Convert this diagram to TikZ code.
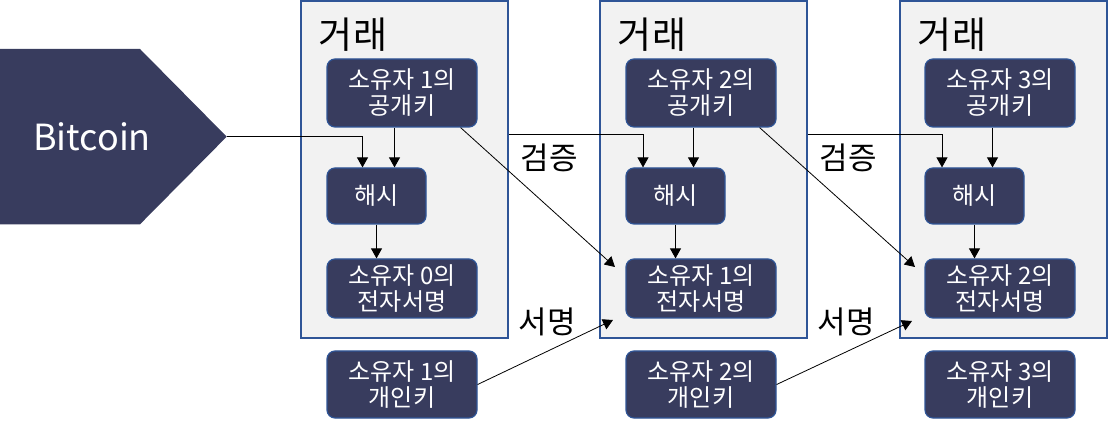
\documentclass[tikz,border=0pt]{standalone}
\usepackage{fontspec}
\setmainfont{Noto Sans CJK KR}
\usepackage{xcolor}
\usetikzlibrary{arrows.meta}
\definecolor{navy}{HTML}{383C5E}
\definecolor{edgeblue}{HTML}{2F5597}
\definecolor{panel}{HTML}{F2F2F2}

\begin{document}
\begin{tikzpicture}[x=1pt, y=-1pt,
    every node/.style = {align=center, inner sep=0pt},
    txbox/.style = {draw=edgeblue, line width=1.5pt, fill=panel,
      minimum width=207pt, minimum height=337pt},
    txlabel/.style = {font=\fontsize{37}{42}\selectfont},
    steplabel/.style = {font=\fontsize{31}{36}\selectfont},
    item/.style = {shape=rectangle, rounded corners=8pt,
      draw=edgeblue, line width=1.2pt, fill=navy, text=white,
      font=\fontsize{24}{26}\selectfont, minimum width=150pt},
    arr/.style = {-{Triangle[length=10pt,width=11pt]}, line width=0.8pt}]
    \useasboundingbox (0,0) rectangle (1108,427);

    % Bitcoin
    \fill[navy] (0,49) -- (140,49) -- (226.7,136.7) -- (140,224.3) -- (0,224.3) -- cycle;
    \coordinate (tip) at (226.7,136.7);
    \node[text=white, font=\fontsize{36}{40}\selectfont] (btc) at (92,137) {Bitcoin};

    % transactions
    \node[txbox] (box1) at (404.5,169.5) {};
    \node[txbox] (box2) at (703.7,169.5) {};
    \node[txbox] (box3) at (1003.3,169.5) {};
    \node[txlabel] (tx1) at (353,35) {거래};
    \node[txlabel] (tx2) at (652,35) {거래};
    \node[txlabel] (tx3) at (952,35) {거래};

    \node[item, minimum height=68pt] (pub1) at (402,93) {소유자 1의\\공개키};
    \node[item, minimum height=68pt] (pub2) at (701,93) {소유자 2의\\공개키};
    \node[item, minimum height=68pt] (pub3) at (1000,93) {소유자 3의\\공개키};

    \node[item, minimum width=99pt, minimum height=56pt] (hash1) at (376.5,196) {해시};
    \node[item, minimum width=99pt, minimum height=56pt] (hash2) at (675.5,196) {해시};
    \node[item, minimum width=99pt, minimum height=56pt] (hash3) at (974.5,196) {해시};

    \node[item, minimum height=59pt] (sig1) at (402,288.5) {소유자 0의\\전자서명};
    \node[item, minimum height=59pt] (sig2) at (701,288.5) {소유자 1의\\전자서명};
    \node[item, minimum height=59pt] (sig3) at (1000,288.5) {소유자 2의\\전자서명};

    \node[item, minimum height=67pt] (priv1) at (402,384.5) {소유자 1의\\개인키};
    \node[item, minimum height=67pt] (priv2) at (701,384.5) {소유자 2의\\개인키};
    \node[item, minimum height=67pt] (priv3) at (1000,384.5) {소유자 3의\\개인키};

    \node[steplabel] (chk1) at (549,158) {검증};
    \node[steplabel] (chk2) at (848,158) {검증};
    \node[steplabel] (sgn1) at (547,322) {서명};
    \node[steplabel] (sgn2) at (846.5,322) {서명};

    % free ends
    \coordinate (v1) at (615,267);
    \coordinate (v2) at (915,267);
    \coordinate (s1) at (613,320);
    \coordinate (s2) at (912,321);

    % inside each transaction
    \draw[arr] (tip) -| ([xshift=-14pt]hash1.north);
    \draw[arr] ([xshift=18pt]hash1.north |- pub1.south) -- ([xshift=18pt]hash1.north);
    \draw[arr] ([xshift=18pt]hash2.north |- pub2.south) -- ([xshift=18pt]hash2.north);
    \draw[arr] ([xshift=18pt]hash3.north |- pub3.south) -- ([xshift=18pt]hash3.north);
    \draw[arr] (hash1.south) -- (hash1.south |- sig1.north);
    \draw[arr] (hash2.south) -- (hash2.south |- sig2.north);
    \draw[arr] (hash3.south) -- (hash3.south |- sig3.north);

    % verification
    \draw[arr] (box1.east |- 0,134) -| ([xshift=-32.5pt]hash2.north);
    \draw[arr] (box2.east |- 0,134) -| ([xshift=-32.5pt]hash3.north);
    \draw[arr] ([xshift=-17pt]pub1.south east) -- (v1);
    \draw[arr] ([xshift=-17pt]pub2.south east) -- (v2);

    % signing
    \draw[arr] (priv1.east) -- (s1);
    \draw[arr] (priv2.east) -- (s2);
  \end{tikzpicture}
\end{document}
